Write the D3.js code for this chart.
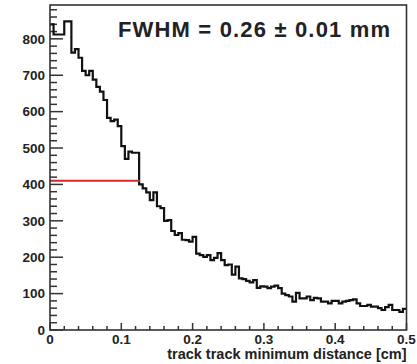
<!DOCTYPE html>
<html>
<head>
<meta charset="utf-8">
<script src="https://cdn.jsdelivr.net/npm/d3@7"></script>
<style>
body { margin: 0; background: #fff; }
text { font-family: "Liberation Sans", Arial, sans-serif; font-weight: bold; fill: #222; }
</style>
</head>
<body>
<div id="chart"></div>
<script>
// histogram contents, 100 bins from 0 to 0.5 cm
const binCounts = [
    840, 812, 812, 812, 848, 848, 762, 772, 748, 712,
    700, 712, 688, 668, 655, 632, 583, 574, 578, 560,
    505, 470, 490, 487, 487, 400, 389, 378, 357, 378,
    340, 335, 300, 302, 272, 261, 266, 248, 247, 243,
    256, 210, 206, 201, 206, 192, 198, 211, 192, 178,
    180, 152, 174, 142, 140, 135, 131, 137, 116, 120,
    119, 115, 119, 122, 115, 100, 96, 92, 78, 102,
    87, 87, 92, 82, 88, 87, 78, 78, 73, 80,
    80, 73, 78, 80, 82, 84, 73, 66, 66, 69,
    64, 64, 60, 55, 63, 69, 55, 55, 50, 58
];
const xRange = [0, 0.5];
const yMax = 893;
const yTicks = [0, 100, 200, 300, 400, 500, 600, 700, 800];
const xTicks = [0, 0.1, 0.2, 0.3, 0.4, 0.5];
const xTickLabels = ["0", "0.1", "0.2", "0.3", "0.4", "0.5"];
const halfMax = 410;
const halfMaxEnd = 0.126;
const xTitle = "track track minimum distance [cm]";
const fwhmLabel = "FWHM = 0.26 \u00b1 0.01 mm";

const width = 417;
const height = 364;
const frameLeft = 50, frameRight = 406.5, frameTop = 5, frameBottom = 330;

const svg = d3.select("#chart")
    .append("svg")
    .attr("width", width)
    .attr("height", height);

const x = d3.scaleLinear().domain(xRange).range([frameLeft, frameRight]);
const y = d3.scaleLinear().domain([0, yMax]).range([frameBottom, frameTop]);

const binWidth = (xRange[1] - xRange[0]) / binCounts.length;
const points = binCounts.map((c, i) => [xRange[0] + i * binWidth, c]);
points.push([xRange[1], binCounts[binCounts.length - 1]]);

// minor ticks
const yMinor = d3.range(0, yMax, 20);
const xMinor = d3.range(0, 0.5001, 0.02);

svg.append("g").selectAll("line")
    .data(yMinor)
    .enter().append("line")
    .attr("x1", frameLeft).attr("x2", d => frameLeft + (d % 100 === 0 ? 13 : 7))
    .attr("y1", d => y(d)).attr("y2", d => y(d))
    .attr("stroke", "#333").attr("stroke-width", 1.5);

svg.append("g").selectAll("line")
    .data(xMinor)
    .enter().append("line")
    .attr("x1", d => x(d)).attr("x2", d => x(d))
    .attr("y1", frameBottom)
    .attr("y2", (d, i) => frameBottom - (i % 5 === 0 ? 7 : 4))
    .attr("stroke", "#333").attr("stroke-width", 1.5);

// histogram
svg.append("path")
    .datum(points)
    .attr("fill", "none")
    .attr("stroke", "#111")
    .attr("stroke-width", 2.2)
    .attr("d", d3.line().x(d => x(d[0])).y(d => y(d[1])).curve(d3.curveStepAfter));

// half maximum line
svg.append("line")
    .attr("x1", x(0)).attr("x2", x(halfMaxEnd))
    .attr("y1", y(halfMax)).attr("y2", y(halfMax))
    .attr("stroke", "#d42a2a")
    .attr("stroke-width", 2);

// frame
svg.append("rect")
    .attr("x", frameLeft).attr("y", frameTop)
    .attr("width", frameRight - frameLeft).attr("height", frameBottom - frameTop)
    .attr("fill", "none")
    .attr("stroke", "#333")
    .attr("stroke-width", 1.6);

// tick labels
svg.append("g").selectAll("text")
    .data(yTicks)
    .enter().append("text")
    .attr("x", 45)
    .attr("y", d => y(d))
    .attr("dy", "0.36em")
    .attr("text-anchor", "end")
    .attr("font-size", 13.5)
    .text(d => d);

svg.append("g").selectAll("text")
    .data(xTicks)
    .enter().append("text")
    .attr("x", d => x(d))
    .attr("y", 344)
    .attr("text-anchor", "middle")
    .attr("font-size", 13.5)
    .text((d, i) => xTickLabels[i]);

svg.append("text")
    .attr("x", frameRight)
    .attr("y", 359)
    .attr("text-anchor", "end")
    .attr("font-size", 14.5)
    .text(xTitle);

svg.append("text")
    .attr("x", 118)
    .attr("y", 37)
    .attr("font-size", 22)
    .attr("textLength", 272)
    .attr("lengthAdjust", "spacing")
    .text(fwhmLabel);
</script>
</body>
</html>
